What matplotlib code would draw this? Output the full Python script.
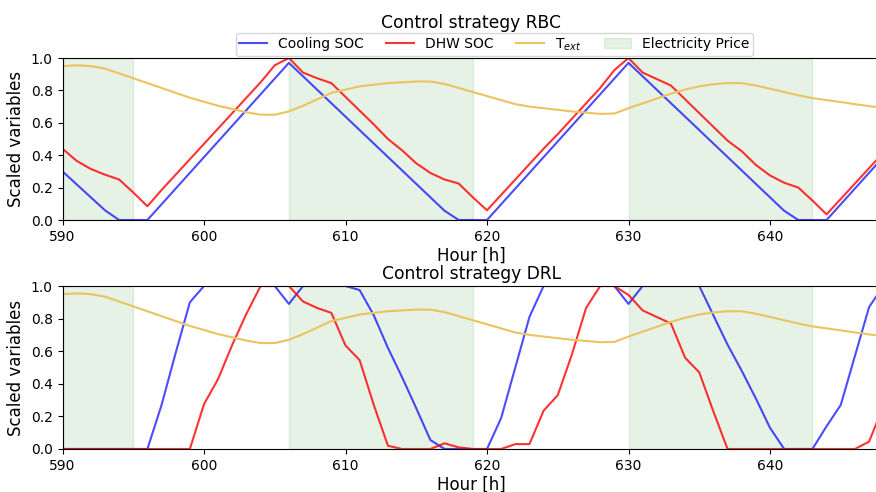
import matplotlib
matplotlib.use("Agg")
import matplotlib.pyplot as plt
import numpy as np
from matplotlib.lines import Line2D
from matplotlib.patches import Patch

hours = list(range(590, 649))

t_ext = [0.950, 0.955, 0.950, 0.935, 0.905, 0.875, 0.845, 0.815, 0.785, 0.755,
         0.730, 0.705, 0.685, 0.665, 0.650, 0.650, 0.670, 0.705, 0.745, 0.785,
         0.805, 0.825, 0.835, 0.845, 0.850, 0.855, 0.855, 0.840, 0.815, 0.790,
         0.765, 0.740, 0.715, 0.700, 0.690, 0.680, 0.670, 0.663, 0.655, 0.657,
         0.690, 0.720, 0.750, 0.780, 0.805, 0.825, 0.838, 0.845, 0.845, 0.830,
         0.810, 0.790, 0.770, 0.752, 0.740, 0.728, 0.715, 0.703, 0.692]

rbc_cooling = [0.30, 0.22, 0.14, 0.06, 0.0, 0.0, 0.0, 0.097, 0.194, 0.291,
               0.388, 0.485, 0.582, 0.679, 0.776, 0.873, 0.970, 0.887, 0.804, 0.721,
               0.638, 0.555, 0.472, 0.389, 0.306, 0.223, 0.140, 0.057, 0.0, 0.0,
               0.0, 0.097, 0.194, 0.291, 0.388, 0.485, 0.582, 0.679, 0.776, 0.873,
               0.970, 0.887, 0.804, 0.721, 0.638, 0.555, 0.472, 0.389, 0.306, 0.223,
               0.140, 0.057, 0.0, 0.0, 0.0, 0.097, 0.194, 0.291, 0.388]

rbc_dhw = [0.44, 0.365, 0.315, 0.28, 0.25, 0.17, 0.085, 0.185, 0.28, 0.375,
           0.47, 0.565, 0.66, 0.755, 0.85, 0.955, 1.0, 0.91, 0.875, 0.845,
           0.76, 0.675, 0.59, 0.50, 0.43, 0.35, 0.29, 0.25, 0.225, 0.14,
           0.06, 0.155, 0.25, 0.345, 0.44, 0.53, 0.625, 0.72, 0.815, 0.925,
           1.0, 0.91, 0.87, 0.83, 0.745, 0.66, 0.575, 0.49, 0.425, 0.34,
           0.275, 0.23, 0.20, 0.12, 0.035, 0.13, 0.225, 0.32, 0.415]

drl_cooling = [0.0, 0.0, 0.0, 0.0, 0.0, 0.0, 0.0, 0.27, 0.59, 0.90,
               1.0, 1.0, 1.0, 1.0, 1.0, 1.0, 0.89, 1.0, 1.0, 1.0,
               1.0, 0.975, 0.82, 0.62, 0.44, 0.25, 0.055, 0.0, 0.0, 0.0,
               0.0, 0.19, 0.50, 0.81, 1.0, 1.0, 1.0, 1.0, 1.0, 1.0,
               0.89, 1.0, 1.0, 1.0, 1.0, 1.0, 0.82, 0.64, 0.48, 0.31,
               0.13, 0.0, 0.0, 0.0, 0.14, 0.27, 0.57, 0.87, 1.0]

drl_dhw = [0.0, 0.0, 0.0, 0.0, 0.0, 0.0, 0.0, 0.0, 0.0, 0.0,
           0.275, 0.43, 0.64, 0.83, 1.0, 1.0, 1.0, 0.905, 0.865, 0.835,
           0.635, 0.545, 0.27, 0.02, 0.0, 0.0, 0.0, 0.035, 0.01, 0.0,
           0.0, 0.0, 0.03, 0.03, 0.235, 0.33, 0.58, 0.865, 1.0, 1.0,
           0.945, 0.85, 0.81, 0.77, 0.56, 0.47, 0.23, 0.0, 0.0, 0.0,
           0.0, 0.0, 0.0, 0.0, 0.0, 0.0, 0.0, 0.045, 0.26]

price_start = [590, 606, 630]
price_end = [595, 619, 643]

titles = ["Control strategy RBC", "Control strategy DRL"]
series = [(rbc_cooling, rbc_dhw), (drl_cooling, drl_dhw)]

c_blue = (0.0, 0.0, 1.0, 0.7)
c_red = (1.0, 0.0, 0.0, 0.8)
c_yel = "#ebc460"

W, H = 876, 492
fig = plt.figure(figsize=(W / 100, H / 100), dpi=100)

x0 = 62.5
xr = 880.0
pxh = 14.15
positions = [(58, 220), (286, 449)]
axes = []
for i, (top, bot) in enumerate(positions):
    ax = fig.add_axes([x0 / W, 1 - bot / H, (xr - x0) / W, (bot - top) / H])
    axes.append(ax)
    for s, e in zip(price_start, price_end):
        ax.axvspan(s, e, color="green", alpha=0.1, lw=1)
    cool, dhw = series[i]
    ax.plot(hours, cool, color=c_blue, lw=1.5)
    ax.plot(hours, dhw, color=c_red, lw=1.5)
    ax.plot(hours, t_ext, color=c_yel, lw=1.5)
    ax.set_xlim(590, 590 + (xr - x0) / pxh)
    ax.set_ylim(0, 1)
    ax.set_xticks([590, 600, 610, 620, 630, 640])
    ax.set_yticks([0.0, 0.2, 0.4, 0.6, 0.8, 1.0])
    ax.tick_params(labelsize=10)
    ax.set_xlabel("Hour [h]", fontsize=12, labelpad=2)
    ax.set_ylabel("Scaled variables", fontsize=12)
    ax.set_title(titles[i], fontsize=12.3, pad=(21.5 if i == 0 else 5))

handles = [Line2D([], [], color=c_blue, lw=1.5),
           Line2D([], [], color=c_red, lw=1.5),
           Line2D([], [], color=c_yel, lw=1.5),
           Patch(facecolor="green", edgecolor="green", alpha=0.1)]
labels = ["Cooling SOC", "DHW SOC", r"T$_{ext}$", "Electricity Price"]
fig.legend(handles, labels, loc="lower center", ncol=4, fontsize=10,
           bbox_to_anchor=(494.5 / W, 1 - 56 / H), borderaxespad=0,
           columnspacing=1.6, borderpad=0.25)

fig.savefig("out.png", dpi=100)
